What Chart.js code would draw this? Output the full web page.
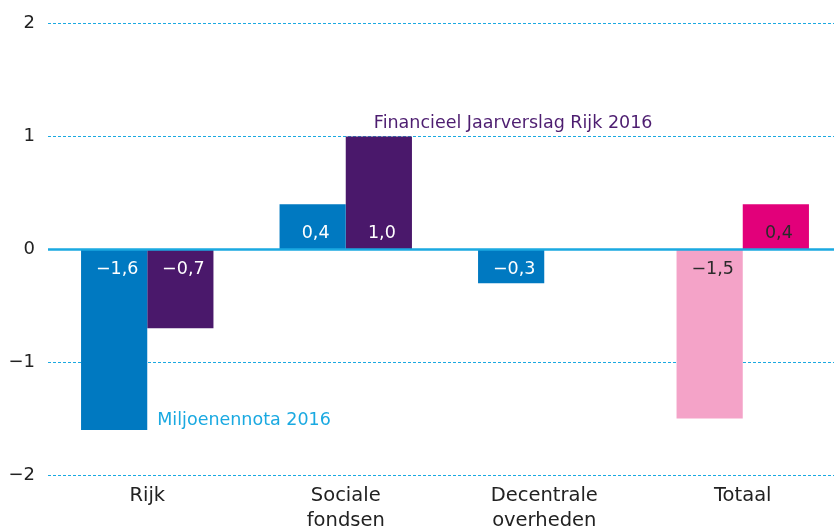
<!DOCTYPE html>
<html>
<head>
<meta charset="utf-8">
<script src="https://cdn.jsdelivr.net/npm/chart.js@4"></script>
<style>
  html,body{margin:0;padding:0;background:#fff;overflow:hidden}
  #wrap{width:842px;height:532px;position:relative}
</style>
</head>
<body>
<div id="wrap"><canvas id="chart"></canvas></div>
<script>
// categorieën en waarden (mld euro)
const categorieen = [['Rijk'], ['Sociale', 'fondsen'], ['Decentrale', 'overheden'], ['Totaal']];
const miljoenennota = [-1.6, 0.4, -0.3, -1.5];
const jaarverslag = [-0.7, 1.0, null, 0.4];
const yTicks = [-2, -1, 0, 1, 2];

const BLAUW = '#0079c1', PAARS = '#4a186b', ROZE = '#f4a3c8', MAGENTA = '#e2007a';
const LICHTBLAUW = '#1aa9e1';
const FONT = '"DejaVu Sans", sans-serif';

const fmt = v => (v < 0 ? '\u2212' : '') + Math.abs(v).toFixed(1).replace('.', ',');

// waardelabels bij de nullijn + nullijn + serienamen
const labelsPlugin = {
  id: 'labels',
  afterDatasetsDraw(chart) {
    const { ctx, chartArea, scales: { y } } = chart;
    const y0 = y.getPixelForValue(0);
    ctx.save();
    ctx.strokeStyle = LICHTBLAUW;
    ctx.lineWidth = 2.5;
    ctx.beginPath();
    ctx.moveTo(chartArea.left, y0);
    ctx.lineTo(chartArea.right, y0);
    ctx.stroke();

    ctx.font = '17.5px ' + FONT;
    ctx.textAlign = 'center';
    ctx.textBaseline = 'middle';
    chart.data.datasets.forEach((ds, di) => {
      chart.getDatasetMeta(di).data.forEach((bar, i) => {
        const v = ds.data[i];
        if (v == null) return;
        ctx.fillStyle = i === 3 ? '#2b2b2b' : '#fff';
        ctx.fillText(fmt(v), bar.x + 3, v < 0 ? y0 + 20 : y0 - 16);
      });
    });

    ctx.font = '17.5px ' + FONT;
    ctx.textAlign = 'left';
    const b1 = chart.getDatasetMeta(1).data[1];
    ctx.fillStyle = '#4d1d70';
    ctx.fillText('Financieel Jaarverslag Rijk 2016', b1.x - 5, b1.y - 13);
    const b0 = chart.getDatasetMeta(0).data[0];
    ctx.fillStyle = LICHTBLAUW;
    ctx.fillText('Miljoenennota 2016', b0.x + b0.width / 2 + 10, b0.y - 9);
    ctx.restore();
  }
};

new Chart(document.getElementById('chart'), {
  type: 'bar',
  data: {
    labels: categorieen,
    datasets: [
      { label: 'Miljoenennota 2016', data: miljoenennota,
        backgroundColor: [BLAUW, BLAUW, BLAUW, ROZE], barPercentage: 1, categoryPercentage: 0.667 },
      { label: 'Financieel Jaarverslag Rijk 2016', data: jaarverslag,
        backgroundColor: [PAARS, PAARS, PAARS, MAGENTA], barPercentage: 1, categoryPercentage: 0.667 }
    ]
  },
  options: {
    responsive: true, maintainAspectRatio: false, animation: false,
    layout: { padding: { top: 22, right: 0, left: 0, bottom: 0 } },
    plugins: { legend: { display: false }, tooltip: { enabled: false } },
    scales: {
      x: {
        grid: { display: false }, border: { display: false },
        ticks: { color: '#222', font: { family: FONT, size: 19.5, lineHeight: 1.25 }, padding: 1 },
        afterFit: s => { s.height = 57; }
      },
      y: {
        min: -2, max: 2,
        afterBuildTicks: s => { s.ticks = yTicks.map(v => ({ value: v })); },
        afterFit: s => { s.width = 48; },
        grid: { color: c => c.tick && c.tick.value === 0 ? 'rgba(0,0,0,0)' : LICHTBLAUW, lineWidth: 1, drawTicks: false },
        border: { display: false, dash: [3, 2] },
        ticks: { color: '#222', font: { family: FONT, size: 18 }, padding: 13,
          callback: v => (v < 0 ? '\u2212' : '') + Math.abs(v) }
      }
    }
  },
  plugins: [labelsPlugin]
});
</script>
</body>
</html>
